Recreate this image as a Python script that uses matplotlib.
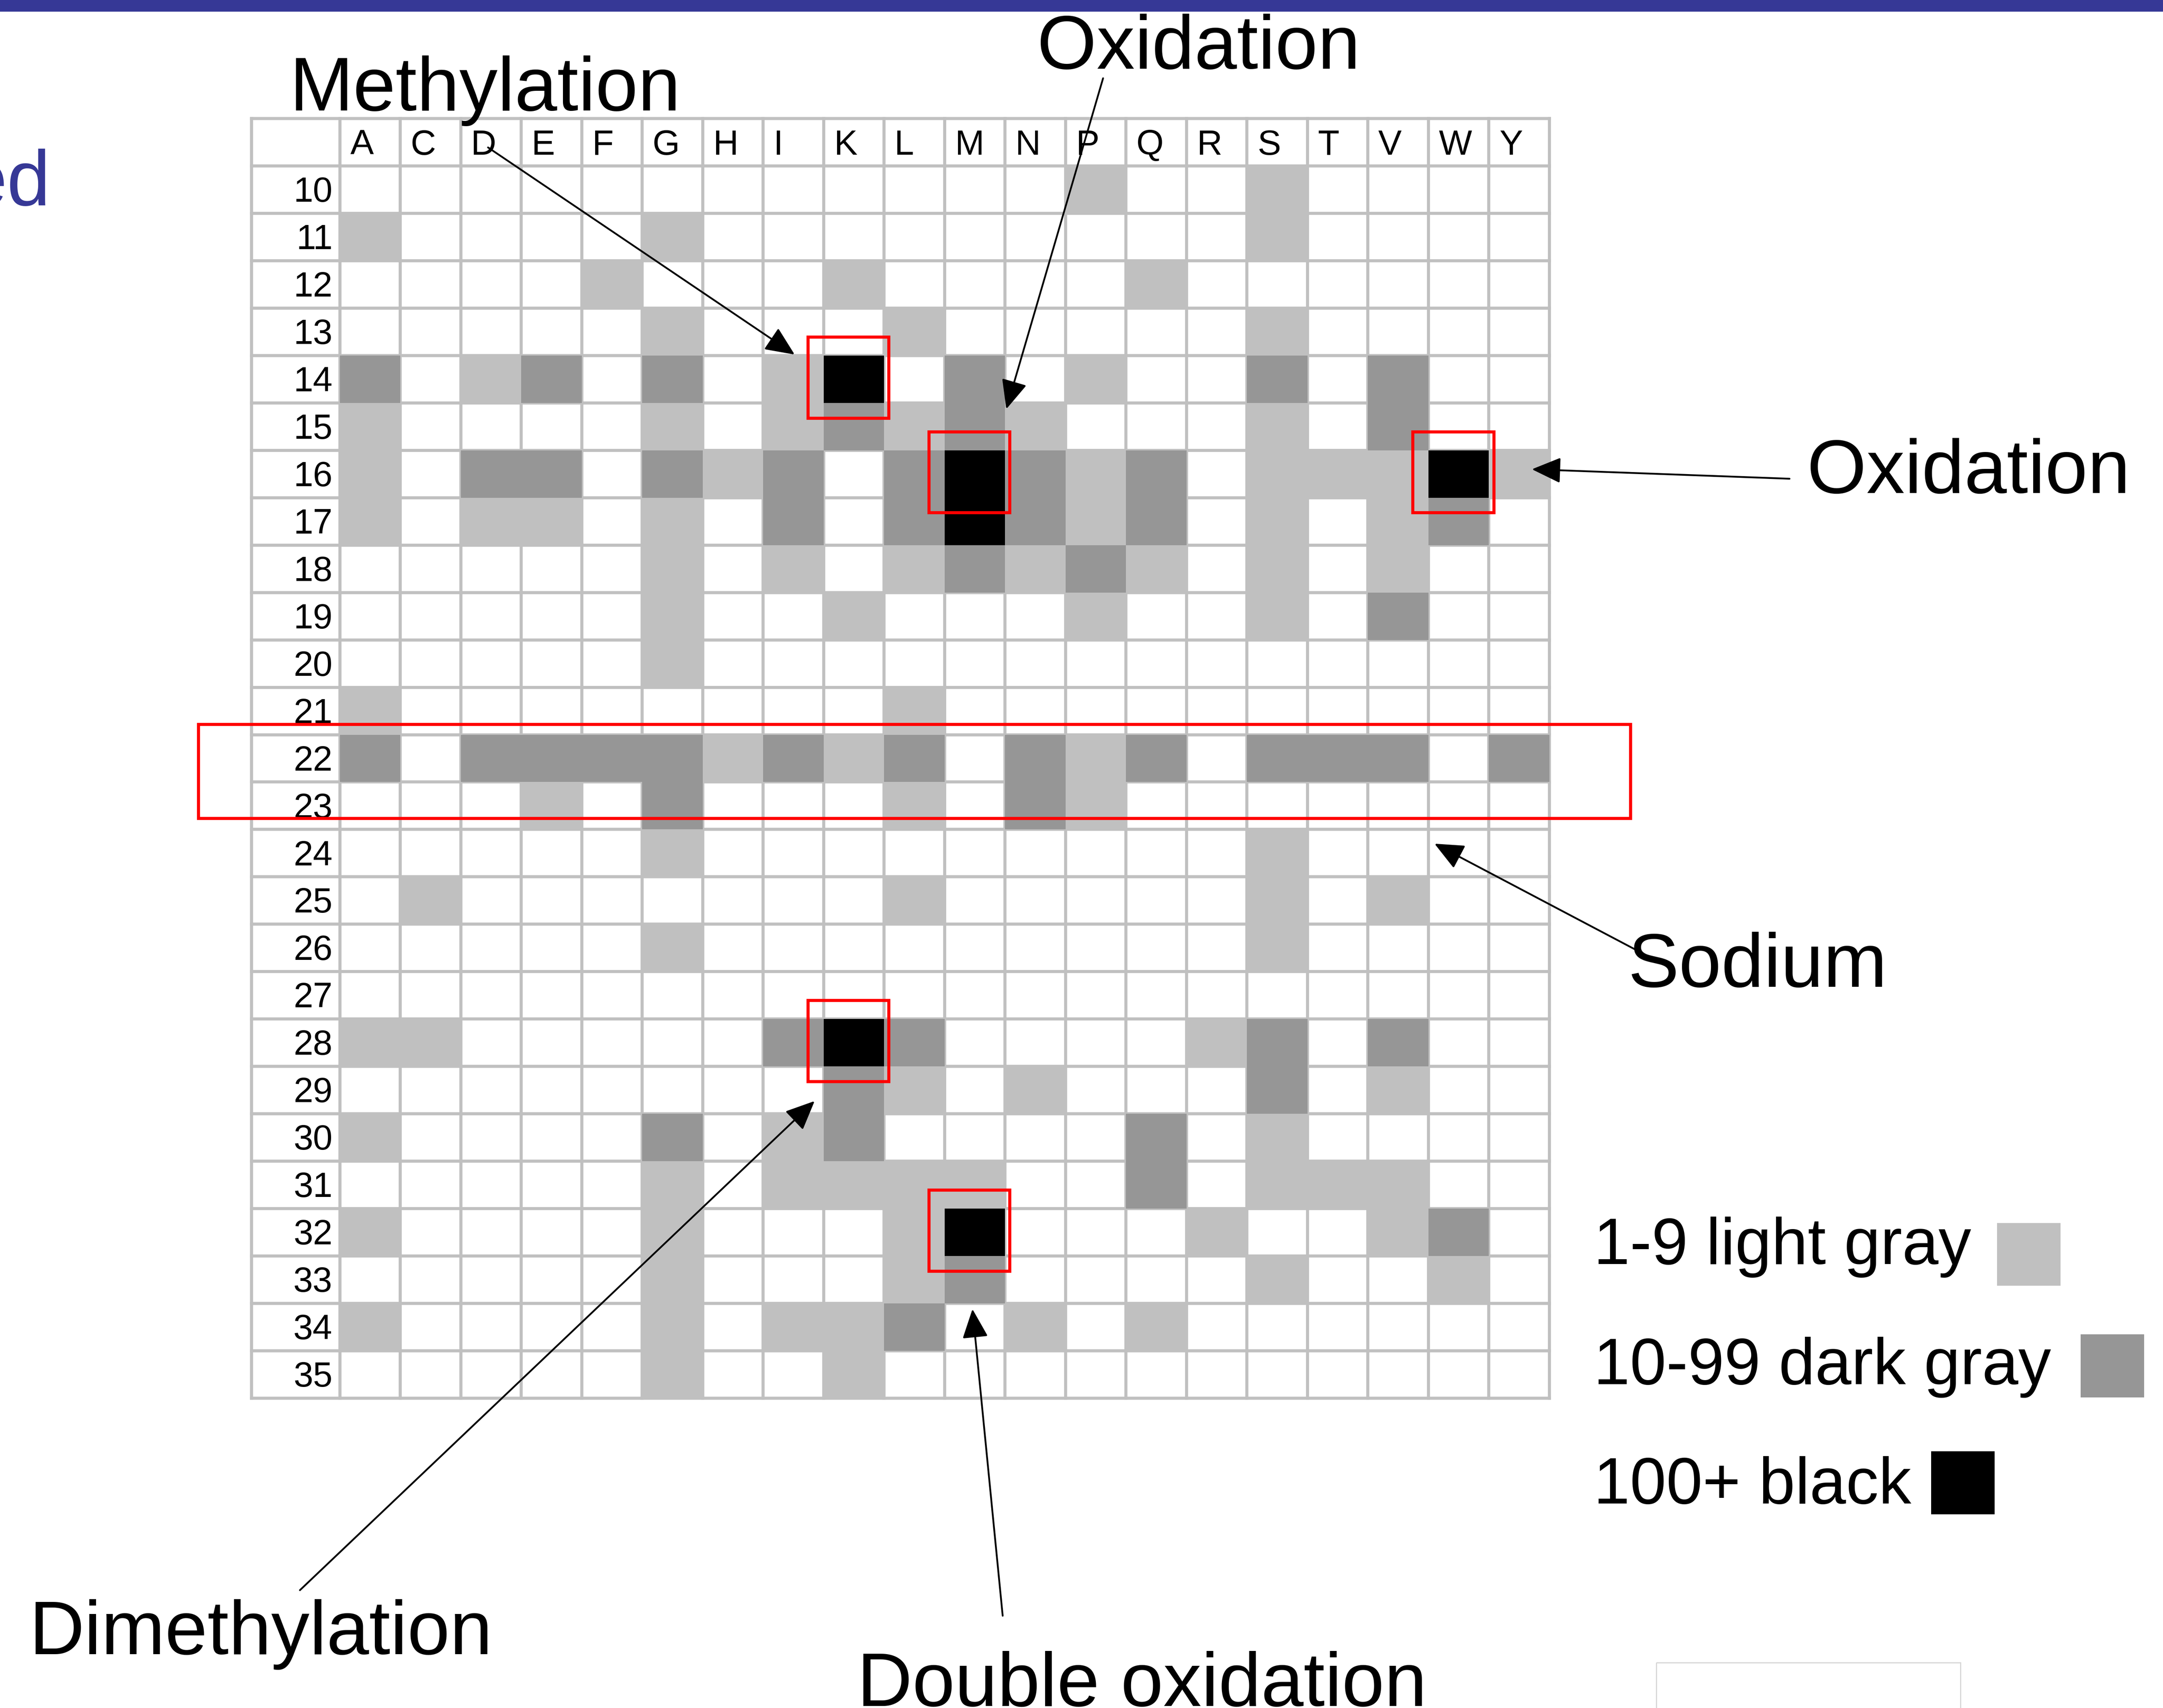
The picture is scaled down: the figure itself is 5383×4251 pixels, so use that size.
import numpy as np
import matplotlib.pyplot as plt
from matplotlib.colors import ListedColormap, BoundaryNorm
from matplotlib.patches import Rectangle

plt.rcParams["font.family"] = ["Liberation Sans", "DejaVu Sans"]

residues = ["A", "C", "D", "E", "F", "G", "H", "I", "K", "L",
            "M", "N", "P", "Q", "R", "S", "T", "V", "W", "Y"]
positions = list(range(10, 36))

# count class for each (position, residue): 0 none, 1 = 1-9, 2 = 10-99, 3 = 100+
count_levels = [
    "00000000000010010000",  # 10
    "10000100000000010000",  # 11
    "00001000100001000000",  # 12
    "00000100010000010000",  # 13
    "20120201302010020200",  # 14
    "10000101212100010200",  # 15
    "10220212023212011131",  # 16
    "10110102023212010120",  # 17
    "00000101012121010100",  # 18
    "00000100100010010200",  # 19
    "00000100000000000000",  # 20
    "10000000010000000000",  # 21
    "20222212120212022202",  # 22
    "00010200010210000000",  # 23
    "00000100000000010000",  # 24
    "01000000010000010100",  # 25
    "00000100000000010000",  # 26
    "00000000000000000000",  # 27
    "11000002320000120200",  # 28
    "00000000210100020100",  # 29
    "10000201200002010000",  # 30
    "00000101111002011100",  # 31
    "10000100013000100120",  # 32
    "00000100012000010010",  # 33
    "10000101120101000000",  # 34
    "00000100100000000000",  # 35
]

level_colors = ["#c0c0c0", "#969696", "#000000"]
legend_labels = ["1-9 light gray", "10-99 dark gray", "100+ black"]

highlighted = [("K", 14), ("M", 16), ("W", 16), ("K", 28), ("M", 32)]
sodium_rows = (22, 23)

# label, text anchor, arrow start, arrow tip (grid cell units)
callouts = [
    ("Methylation", (-0.83, -1.17), (2.45, -0.39), (7.52, 3.98)),
    ("Oxidation", (11.53, -2.05), (12.62, -1.85), (11.02, 5.13)),
    ("Oxidation", (24.26, 6.90), (23.97, 6.60), (19.71, 6.40)),
    ("Sodium", (21.30, 17.32), (21.46, 16.56), (18.10, 14.30)),
    ("Dimethylation", (-5.14, 31.40), (-0.66, 30.05), (7.85, 19.73)),
    ("Double oxidation", (8.55, 32.49), (10.96, 30.59), (10.46, 24.12)),
]

# legend layout: text baseline, swatch left/top
legend_text_x = 20.73
legend_baselines = [23.17, 25.70, 28.22]
legend_swatches = [(27.40, 22.30), (28.78, 24.65), (26.31, 27.12)]

GRID = "#c0c0c0"
RED = "#ff0000"
BLUE = "#363896"
LABEL_W = 1.46
W, H = 5383, 4251

fig = plt.figure(figsize=(W / 100, H / 100), dpi=100)
fig.add_artist(Rectangle((0, 1 - 29 / H), 1, 29 / H, transform=fig.transFigure,
                         color=BLUE, lw=0))

ax = fig.add_axes([626 / W, 1 - 3480 / H, 3230 / W, 3185 / H])
ax.set_xlim(-LABEL_W, len(residues))
ax.set_ylim(len(positions), -1)
ax.axis("off")

# table lines
ax.vlines(np.r_[-LABEL_W, np.arange(len(residues) + 1)], -1, len(positions),
          colors=GRID, lw=5.5, zorder=1, clip_on=False, capstyle="projecting")
ax.hlines(np.arange(-1, len(positions) + 1), -LABEL_W, len(residues),
          colors=GRID, lw=5.5, zorder=1, clip_on=False, capstyle="projecting")

levels = np.array([[int(c) for c in row] for row in count_levels])
cmap = ListedColormap(level_colors)
norm = BoundaryNorm([0.5, 1.5, 2.5, 3.5], cmap.N)
ax.pcolormesh(np.arange(len(residues) + 1), np.arange(len(positions) + 1),
              np.ma.masked_equal(levels, 0), cmap=cmap, norm=norm,
              edgecolors="none", zorder=2)

for j, res in enumerate(residues):
    ax.text(j + 0.17, -0.24, res, fontsize=63, ha="left", va="baseline", zorder=3)
for i, pos in enumerate(positions):
    ax.text(-0.12, i + 0.755, str(pos), fontsize=63, ha="right", va="baseline", zorder=3)

# red boxes around the strongest cells and the sodium rows
for res, pos in highlighted:
    j, i = residues.index(res), positions.index(pos)
    ax.add_patch(Rectangle((j - 0.26, i - 0.39), 1.34, 1.71, fill=False,
                           ec=RED, lw=5.5, zorder=4, clip_on=False))
r0 = positions.index(sodium_rows[0])
ax.add_patch(Rectangle((-2.34, r0 - 0.22), 23.68, 1.99, fill=False,
                       ec=RED, lw=5.5, zorder=4, clip_on=False))

for label, (tx, ty), start, tip in callouts:
    ax.text(tx, ty, label, fontsize=137, ha="left", va="baseline", zorder=6,
            clip_on=False)
    ax.annotate("", xy=tip, xytext=start, xycoords="data", textcoords="data",
                annotation_clip=False, zorder=5,
                arrowprops=dict(arrowstyle="-|>,head_length=0.45,head_width=0.2",
                                mutation_scale=100, lw=3.2, color="black",
                                shrinkA=0, shrinkB=0))

for label, base, (sx, sy), color in zip(legend_labels, legend_baselines,
                                        legend_swatches, level_colors):
    ax.text(legend_text_x, base, label, fontsize=117, ha="left", va="baseline",
            clip_on=False)
    ax.add_patch(Rectangle((sx, sy), 1.05, 1.33, color=color, lw=0,
                           clip_on=False))

# slide title running in from the left edge
ax.text(-4.78, 0.83, "ed", fontsize=140, color=BLUE, ha="right", va="baseline",
        clip_on=False)

# thumbnail frame in the lower right corner
ax.add_patch(Rectangle((21.77, 31.58), 5.03, 2.0, fill=False, ec="#d6d6d6",
                       lw=2, clip_on=False))

fig.savefig("out.png", dpi=100)
